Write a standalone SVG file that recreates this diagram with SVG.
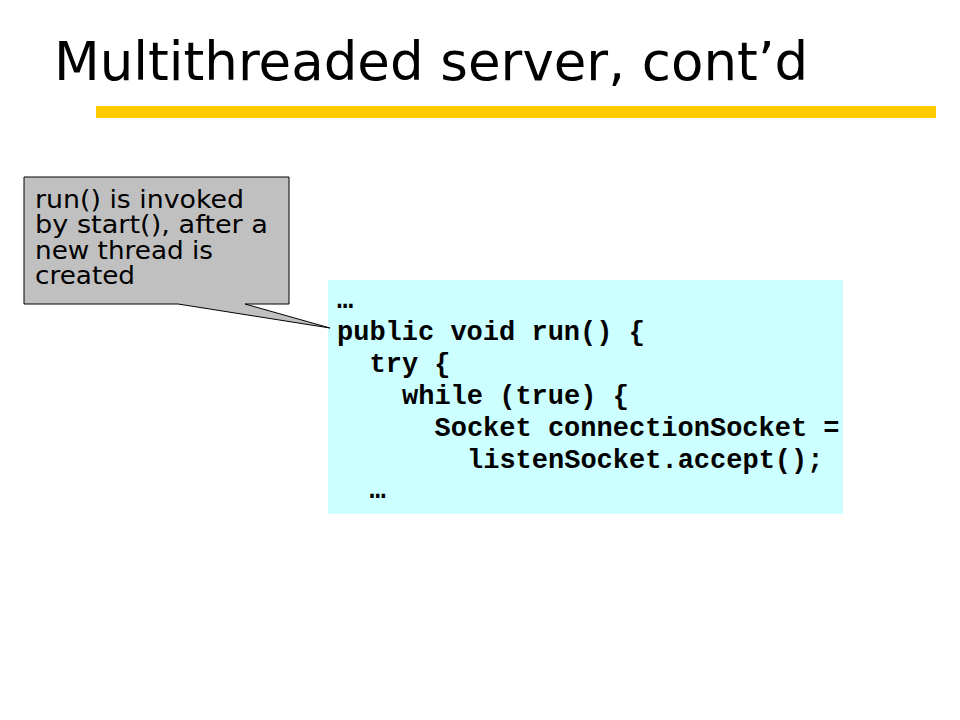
<svg xmlns="http://www.w3.org/2000/svg" width="960" height="720" viewBox="0 0 960 720">
<style>
.title{font-family:"DejaVu Sans","Verdana",sans-serif;font-size:53px;fill:#000}
.note{font-family:"DejaVu Sans","Verdana",sans-serif;font-size:24px;fill:#000}
.code{font-family:"Liberation Mono","Courier New",monospace;font-size:27px;font-weight:bold;fill:#000;white-space:pre}
</style>
<rect width="960" height="720" fill="#fff"/>
<g id="title">
<text class="title" x="54" y="80">Multithreaded server, cont’d</text>
<rect x="96" y="106" width="840" height="12" fill="#FFCC00"/>
</g>
<g id="code">
<rect x="328" y="280" width="515" height="234" fill="#CCFFFF"/>
<text class="code" x="337" y="308">…</text>
<text class="code" x="337" y="340">public void run() {</text>
<text class="code" x="369.5" y="372">try {</text>
<text class="code" x="402" y="404">while (true) {</text>
<text class="code" x="434.5" y="436">Socket connectionSocket =</text>
<text class="code" x="467" y="468">listenSocket.accept();</text>
<text class="code" x="369.5" y="498">…</text>
</g>
<g id="callout">
<path d="M24,177 H289 V304 H245 L330,328 L178,304 H24 Z" fill="#C0C0C0" stroke="#000" stroke-width="1"/>
<text class="note" x="35" y="208" textLength="209" lengthAdjust="spacingAndGlyphs">run() is invoked</text>
<text class="note" x="35" y="233" textLength="233" lengthAdjust="spacingAndGlyphs">by start(), after a</text>
<text class="note" x="35" y="259" textLength="178" lengthAdjust="spacingAndGlyphs">new thread is</text>
<text class="note" x="35" y="284" textLength="100" lengthAdjust="spacingAndGlyphs">created</text>
</g>
</svg>
